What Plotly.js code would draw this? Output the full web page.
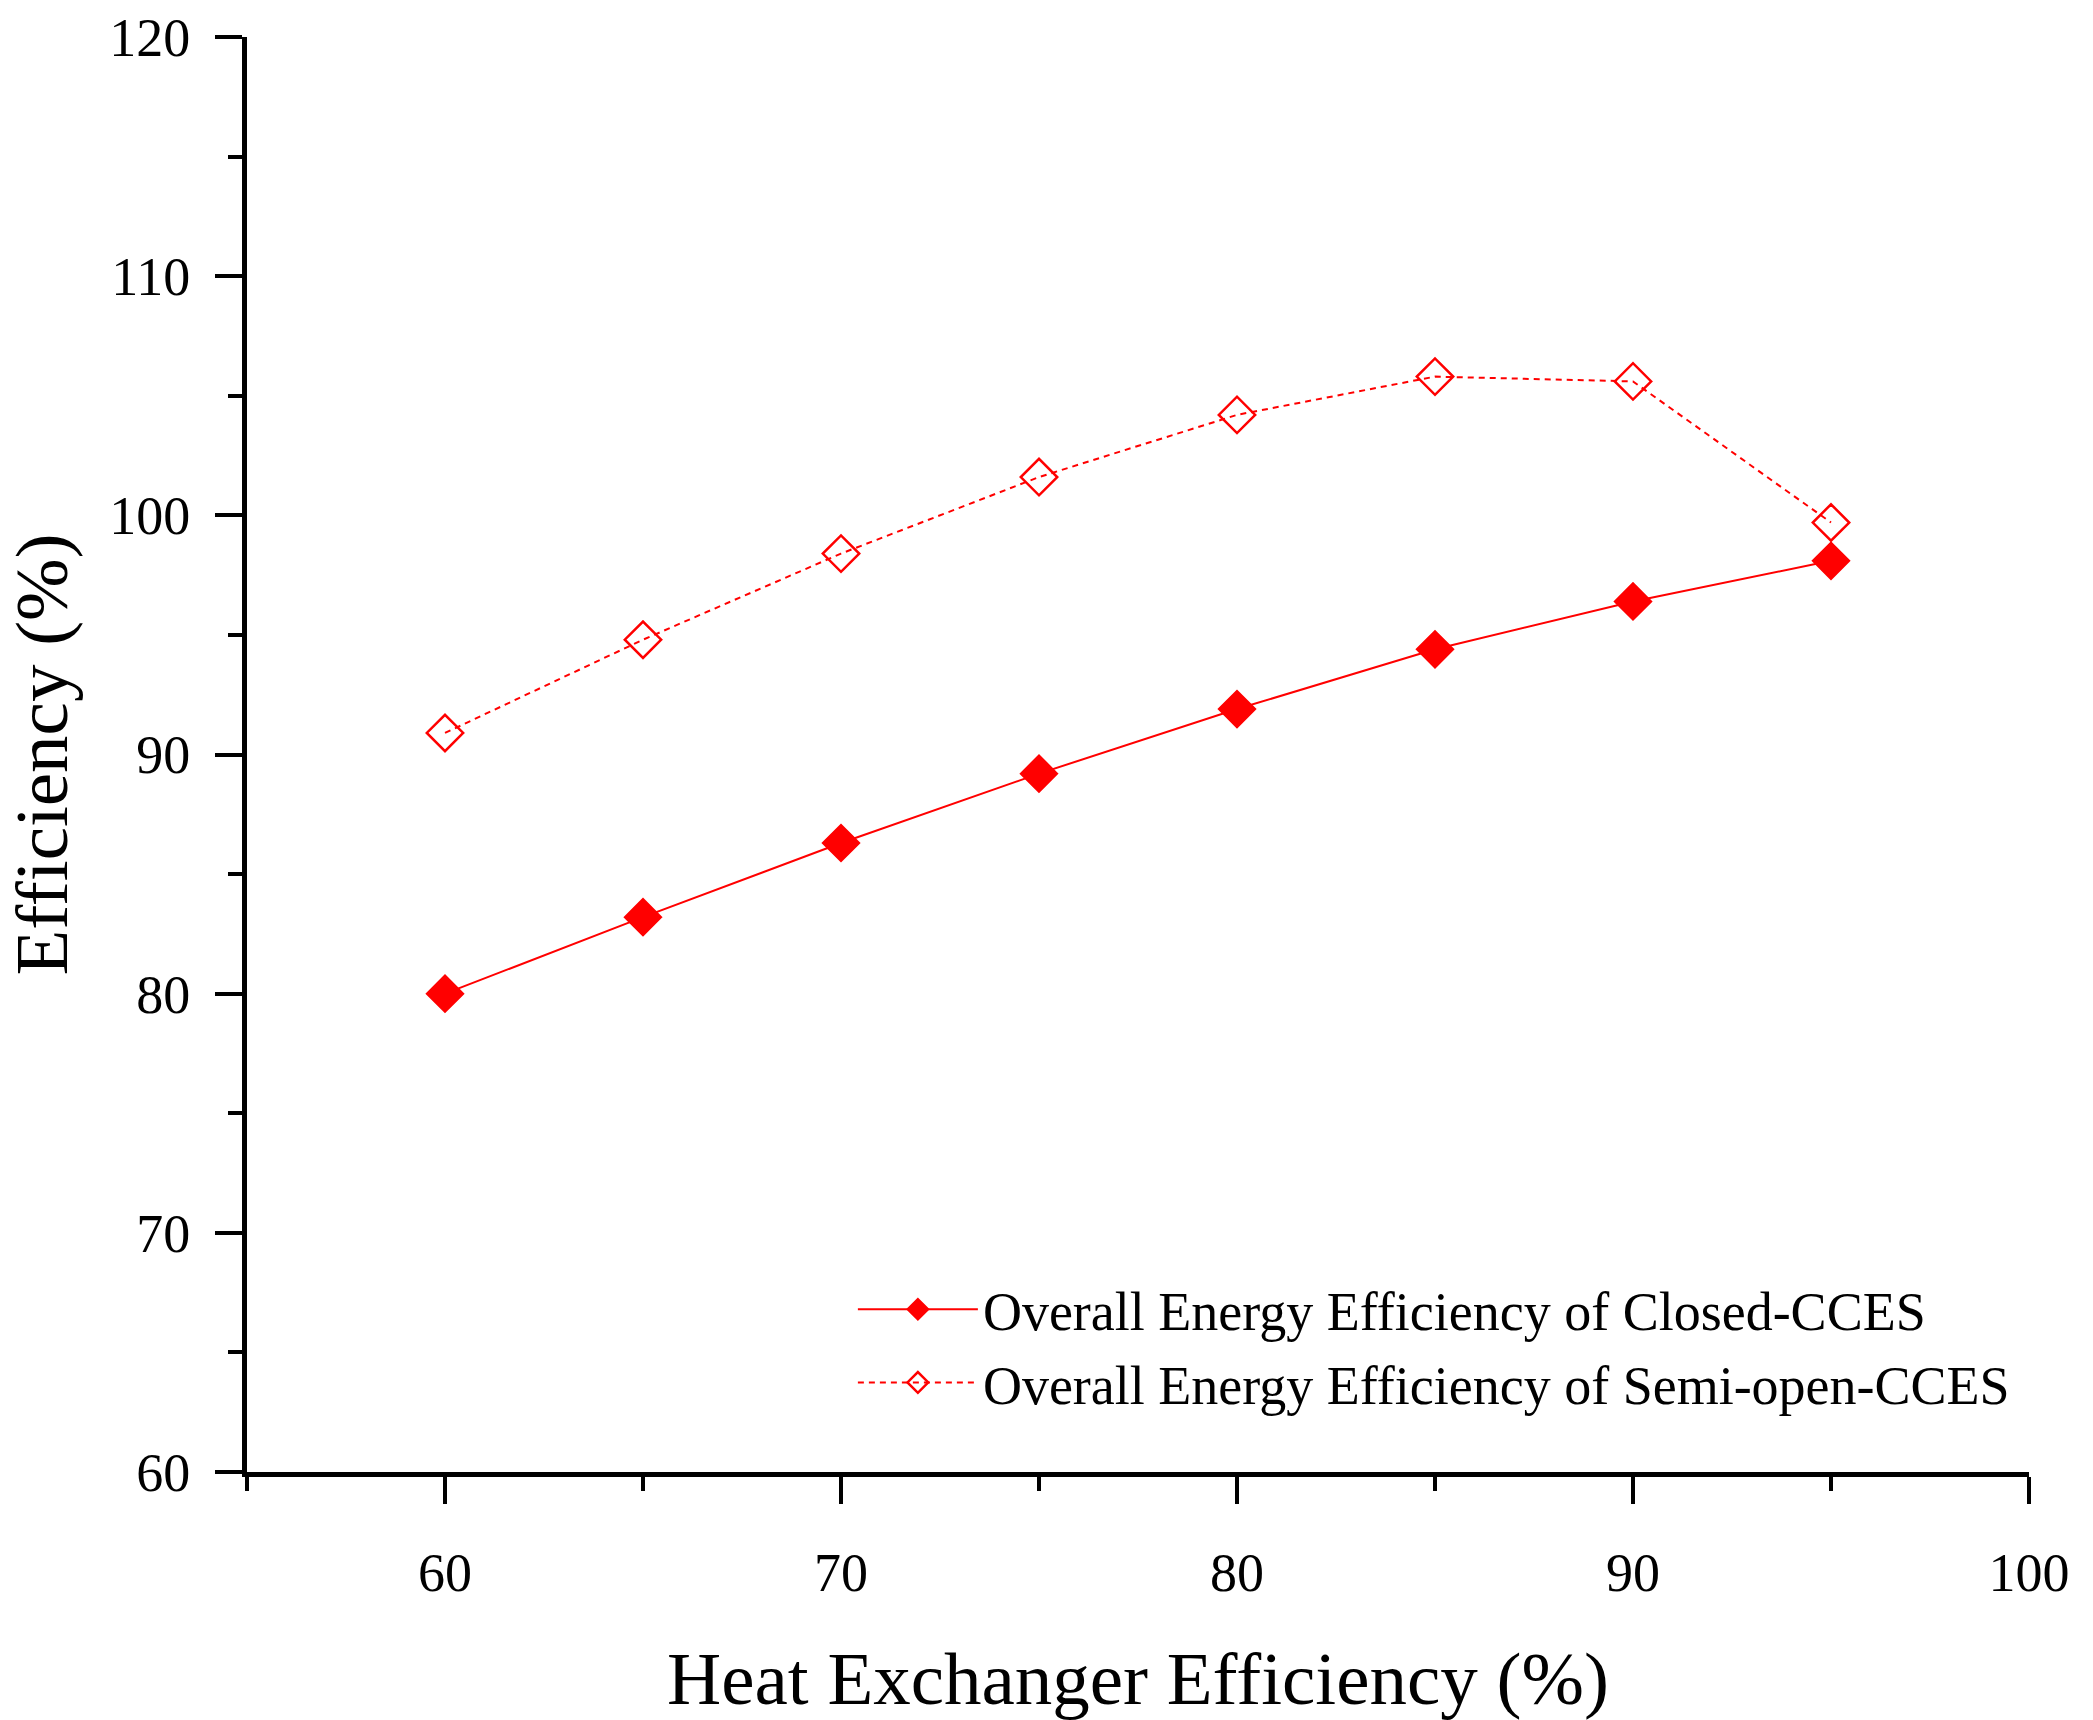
<!DOCTYPE html>
<html>
<head>
<meta charset="utf-8">
<script src="https://cdn.plot.ly/plotly-3.0.1.min.js"></script>
<style>
  html, body { margin: 0; padding: 0; background: #fff; }
  #chart { width: 2093px; height: 1720px; }
</style>
</head>
<body>
<div id="chart"></div>
<script>
var hxEff = [60, 65, 70, 75, 80, 85, 90, 95];
var closedEff = [80.0, 83.2, 86.3, 89.2, 91.9, 94.4, 96.4, 98.1];
var semiOpenEff = [90.9, 94.8, 98.4, 101.6, 104.2, 105.8, 105.6, 99.7];
var serif = 'Liberation Serif, Times New Roman, serif';

function traces() {
  return [{
    x: hxEff, y: closedEff,
    name: 'Overall Energy Efficiency of Closed-CCES',
    mode: 'lines+markers', type: 'scatter',
    line: { color: '#ff0000', width: 2 },
    marker: { symbol: 'diamond', size: 28, color: '#ff0000', line: { color: '#ff0000', width: 2 } }
  }, {
    x: hxEff, y: semiOpenEff,
    name: 'Overall Energy Efficiency of Semi-open-CCES',
    mode: 'lines+markers', type: 'scatter',
    line: { color: '#ff0000', width: 2, dash: '6px,5px' },
    marker: { symbol: 'diamond-open', size: 28, color: '#ff0000', line: { color: '#ff0000', width: 2.5 } }
  }];
}

function axis(r, opt) {
  var a = {
    range: r, dtick: 10, tick0: 0, ticks: 'outside', ticklen: 27, tickwidth: 4, tickcolor: '#000',
    showline: true, linewidth: 5, linecolor: '#000', showgrid: false, zeroline: false
  };
  if (opt.minor) a.minor = { dtick: 5, tick0: 0, ticks: 'outside', ticklen: 14, tickwidth: 4, tickcolor: '#000' };
  if (opt.standoff) a.ticklabelstandoff = opt.standoff;
  a.title = { text: opt.title, font: { family: serif, size: 75, color: '#000' }, standoff: opt.tstand };
  return a;
}

function layout(opt) {
  return {
    width: 2093, height: 1720,
    margin: { l: 247, r: 64, t: 37, b: 248 },
    font: { family: serif, size: 54, color: '#000' },
    showlegend: true,
    legend: {
      x: 0.34, y: 0.033, xanchor: 'left', yanchor: 'bottom',
      font: { family: serif, size: 54, color: '#000' },
      bgcolor: 'rgba(0,0,0,0)', itemwidth: 120
    },
    xaxis: axis([55, 100], { minor: opt.minor, standoff: opt.standoff ? 22 : 0, title: 'Heat Exchanger Efficiency (%)', tstand: 53 }),
    yaxis: axis([60, 120], { minor: opt.minor, standoff: opt.standoff ? 14 : 0, title: 'Efficiency (%)', tstand: 22 })
  };
}

function draw(opt) {
  try {
    Plotly.newPlot('chart', traces(), layout(opt), { displayModeBar: false });
    return true;
  } catch (e) { return false; }
}
draw({ minor: 1, standoff: 1 }) || draw({ minor: 1 }) || draw({});
</script>
</body>
</html>
